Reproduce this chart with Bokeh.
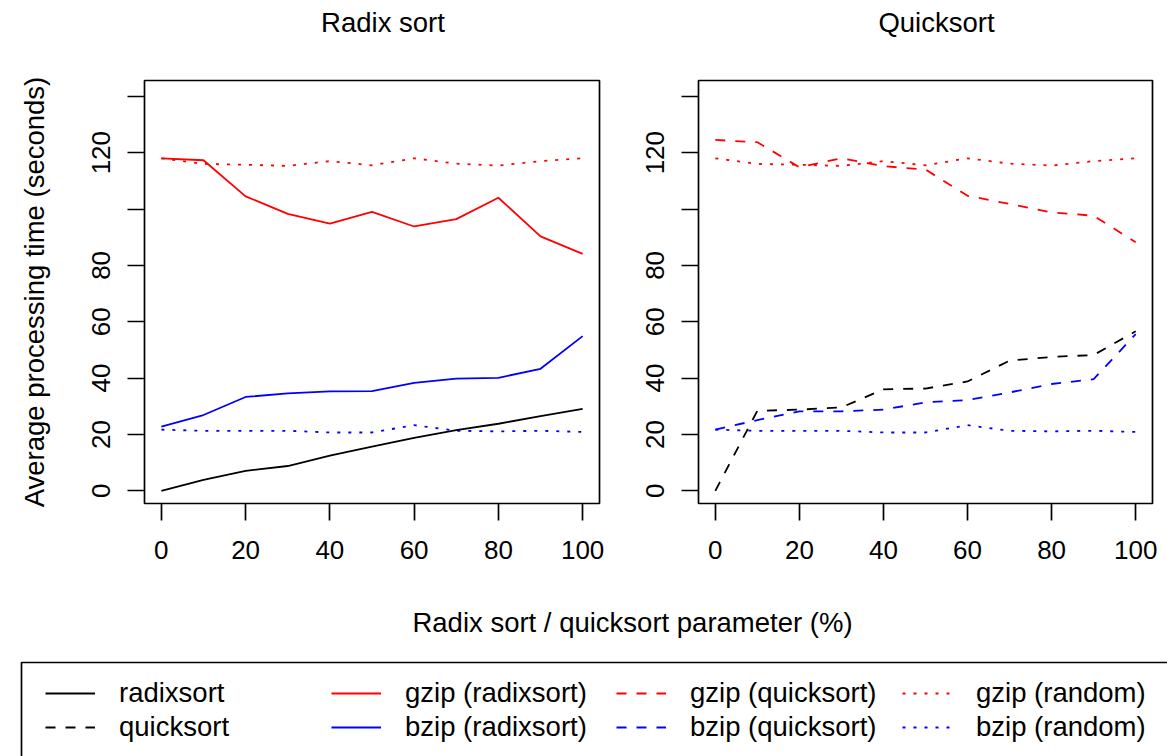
from bokeh.plotting import figure
from bokeh.models import Range1d, FixedTicker, Label, Legend, LegendItem, BoxAnnotation
from bokeh.layouts import column, row
from bokeh.embed import file_html
from bokeh.resources import INLINE

# ---------------- data ----------------
param = [0, 10, 20, 30, 40, 50, 60, 70, 80, 90, 100]

radixsort_time = [0.0, 3.9, 7.1, 8.8, 12.5, 15.7, 18.8, 21.5, 23.8, 26.5, 29.1]
gzip_radixsort = [118.0, 117.3, 104.5, 98.3, 94.8, 99.0, 93.8, 96.4, 104.0, 90.3, 84.1]
bzip_radixsort = [22.8, 26.9, 33.3, 34.6, 35.3, 35.4, 38.3, 39.8, 40.1, 43.3, 54.9]

quicksort_time = [0.0, 28.4, 28.8, 29.6, 36.0, 36.3, 38.8, 46.2, 47.5, 48.2, 56.6]
gzip_quicksort = [124.5, 123.7, 114.8, 118.0, 115.2, 114.0, 104.7, 101.8, 98.8, 97.6, 88.2]
bzip_quicksort = [21.7, 25.1, 28.2, 28.2, 28.8, 31.4, 32.2, 34.9, 37.9, 39.6, 55.6]

gzip_random = [118.0, 116.0, 115.7, 115.3, 117.0, 115.5, 118.0, 116.1, 115.4, 117.0, 118.0]
bzip_random = [21.7, 21.3, 21.3, 21.3, 20.7, 20.7, 23.3, 21.3, 21.1, 21.3, 20.9]

x_ticks = [0, 20, 40, 60, 80, 100]
y_ticks = [0, 20, 40, 60, 80, 100, 120, 140]
y_tick_labels = {0: "0", 20: "20", 40: "40", 60: "60", 80: "80", 100: "", 120: "120", 140: ""}

panel_titles = ["Radix sort", "Quicksort"]
y_title = "Average processing time (seconds)"
x_title = "Radix sort / quicksort parameter (%)"

legend_labels = [["radixsort", "quicksort"],
                 ["gzip (radixsort)", "bzip (radixsort)"],
                 ["gzip (quicksort)", "bzip (quicksort)"],
                 ["gzip (random)", "bzip (random)"]]

# ---------------- style ----------------
FONT = "Liberation Sans"
FS_TICK = "26px"
FS = "27.5px"
LW = 1.8
RED = "#FF0000"
BLUE = "#0000FF"
BLACK = "#000000"
SOLID = "solid"
DASHED = "10 10"
DOTTED = "3 8"
NAN = float("nan")

W = 1167
TITLE_H = 50
TOP_H = 546
BOT_H = 756 - TITLE_H - TOP_H


def blank_figure(width, height):
    f = figure(width=width, height=height, title=None,
               x_range=Range1d(0, width), y_range=Range1d(0, height),
               x_axis_location=None, y_axis_location=None,
               output_backend="svg", toolbar_location=None,
               min_border=0, min_border_left=0, min_border_right=0,
               min_border_top=0, min_border_bottom=0)
    f.grid.visible = False
    f.outline_line_color = None
    f.background_fill_color = "white"
    f.border_fill_color = "white"
    return f


def style_axis(ax):
    ax.axis_line_color = None
    ax.major_tick_out = 17
    ax.major_tick_in = 0
    ax.minor_tick_out = 0
    ax.minor_tick_in = 0
    ax.major_tick_line_width = 1.7
    ax.major_tick_line_color = BLACK
    ax.major_label_text_font = FONT
    ax.major_label_text_font_size = FS_TICK
    ax.major_label_text_color = BLACK
    ax.axis_label_text_font = FONT
    ax.axis_label_text_font_size = FS
    ax.axis_label_text_font_style = "normal"
    ax.axis_label_text_color = BLACK


def make_panel(width, bl, br, series, ylabel=None):
    top = 80 - TITLE_H
    p = figure(width=width, height=TOP_H, title=None,
               x_range=Range1d(-4, 104), y_range=Range1d(-4.5, 145.6),
               output_backend="svg", toolbar_location=None,
               min_border_left=bl, min_border_right=br,
               min_border_top=top, min_border_bottom=TOP_H - top - 423)
    p.grid.visible = False
    p.outline_line_color = BLACK
    p.outline_line_width = 1.7
    p.outline_line_alpha = 1.0
    p.background_fill_color = "white"
    p.border_fill_color = "white"

    p.xaxis.ticker = FixedTicker(ticks=x_ticks)
    p.yaxis.ticker = FixedTicker(ticks=y_ticks)
    p.yaxis.major_label_overrides = y_tick_labels
    p.yaxis.major_label_orientation = "vertical"
    style_axis(p.xaxis[0])
    style_axis(p.yaxis[0])
    p.xaxis.major_label_standoff = 20
    p.yaxis.major_label_standoff = 17
    if ylabel:
        p.yaxis.axis_label = ylabel
        p.yaxis.axis_label_standoff = 40

    for ys, color, dash in series:
        p.line(param, ys, line_color=color, line_dash=dash, line_width=LW)
    return p


# ---------------- panel titles strip ----------------
pt = blank_figure(W, TITLE_H)
for txt, cx in zip(panel_titles, [382.5, 936]):
    pt.add_layout(Label(x=cx, y=TITLE_H - 22, text=txt, text_align="center",
                        text_baseline="middle", text_font=FONT,
                        text_font_size=FS, text_color=BLACK))

p1 = make_panel(620, 144, 21, [
    (gzip_random, RED, DOTTED),
    (bzip_random, BLUE, DOTTED),
    (radixsort_time, BLACK, SOLID),
    (gzip_radixsort, RED, SOLID),
    (bzip_radixsort, BLUE, SOLID),
], ylabel=y_title)

p2 = make_panel(547, 78, 15, [
    (gzip_random, RED, DOTTED),
    (bzip_random, BLUE, DOTTED),
    (quicksort_time, BLACK, DASHED),
    (gzip_quicksort, RED, DASHED),
    (bzip_quicksort, BLUE, DASHED),
])

# ---------------- bottom: x title + legend ----------------
p3 = blank_figure(W, BOT_H)

p3.add_layout(Label(x=632, y=BOT_H - 26, text=x_title, text_align="center",
                    text_baseline="middle", text_font=FONT, text_font_size=FS,
                    text_color=BLACK))

p3.add_layout(BoxAnnotation(left=21, right=1400, top=BOT_H - 66, bottom=-200,
                            fill_alpha=0, fill_color=None,
                            line_color=BLACK, line_width=1.7, line_alpha=1.0))

legend_styles = [[(BLACK, SOLID), (BLACK, DASHED)],
                 [(RED, SOLID), (BLUE, SOLID)],
                 [(RED, DASHED), (BLUE, DASHED)],
                 [(RED, DOTTED), (BLUE, DOTTED)]]
col_x = [45, 331, 616, 902]

for k in range(4):
    items = []
    for j in range(2):
        color, dash = legend_styles[k][j]
        r = p3.line(x=[NAN, NAN], y=[NAN, NAN], line_color=color,
                    line_dash=dash, line_width=LW)
        items.append(LegendItem(label=legend_labels[k][j], renderers=[r]))
    leg = Legend(items=items, location=(col_x[k], 13), orientation="vertical",
                 glyph_width=50, glyph_height=20, label_height=20,
                 label_standoff=24, spacing=2, padding=0, margin=0,
                 border_line_color=None, background_fill_alpha=0,
                 label_text_font=FONT, label_text_font_size=FS,
                 label_text_color=BLACK)
    p3.add_layout(leg)

layout = column(pt, row(p1, p2), p3)
open("out.html", "w").write(file_html(layout, INLINE))
